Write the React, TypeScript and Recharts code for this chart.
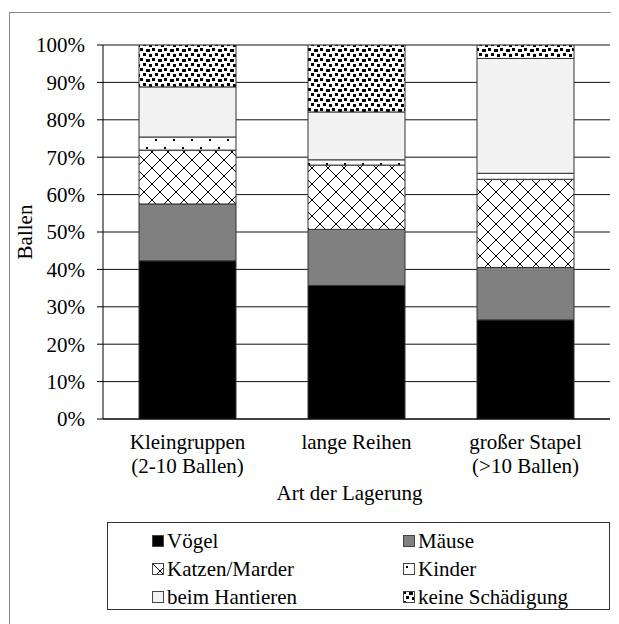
import { Bar, BarChart, CartesianGrid, Legend, XAxis, YAxis } from "recharts";

const categoryLines = [["Kleingruppen", "(2-10 Ballen)"], ["lange Reihen"], ["großer Stapel", "(>10 Ballen)"]];

const voegel = [42.3, 35.7, 26.5];
const maeuse = [15.2, 15.0, 14.0];
const katzen = [14.4, 17.2, 23.6];
const kinder = [3.5, 1.4, 1.6];
const hantieren = [13.4, 12.8, 30.7];
const keine = [11.2, 17.9, 3.6];

const seriesNames = ["Vögel", "Mäuse", "Katzen/Marder", "Kinder", "beim Hantieren", "keine Schädigung"];
const seriesValues = [voegel, maeuse, katzen, kinder, hantieren, keine];

const yTicks = [0, 10, 20, 30, 40, 50, 60, 70, 80, 90, 100];

const FONT = "'Liberation Serif', 'Times New Roman', serif";

const data = categoryLines.map((lines, i) => {
  const row: Record<string, string | number> = { name: lines.join(" ") };
  seriesNames.forEach((s, k) => {
    row[s] = seriesValues[k][i];
  });
  return row;
});

function fillFor(k: number, prefix: string) {
  return ["#000000", "#808080", `url(#${prefix}cross)`, `url(#${prefix}dots)`, "#f2f2f2", `url(#${prefix}confetti)`][k];
}

// confetti squares in a 12x10 tile: x, y, w, h
const confetti = [
  [0, 0, 3, 3], [6, 1, 4, 3], [3, 5, 3, 3], [9, 6, 3, 3]
];

function PatternDefs({ prefix }: { prefix: string }) {
  return (
    <defs>
      <pattern id={`${prefix}cross`} width={16} height={16} patternUnits="userSpaceOnUse">
        <rect width={16} height={16} fill="#fff" />
        <path d="M0 0 L16 16 M16 0 L0 16" stroke="#000" strokeWidth={1} />
      </pattern>
      <pattern id={`${prefix}dots`} width={18} height={16} patternUnits="userSpaceOnUse">
        <rect width={18} height={16} fill="#fff" />
        <rect x={3} y={3} width={2} height={2} fill="#000" />
        <rect x={12} y={11} width={2} height={2} fill="#000" />
      </pattern>
      <pattern id={`${prefix}confetti`} width={12} height={10} patternUnits="userSpaceOnUse">
        <rect width={12} height={10} fill="#fff" />
        {confetti.map(([x, y, w, h], i) => (
          <rect key={i} x={x} y={y} width={w} height={h} fill="#000" shapeRendering="crispEdges" />
        ))}
      </pattern>
    </defs>
  );
}

function CategoryTick({ x, y, index }: any) {
  const lines = categoryLines[index] || [];
  return (
    <text x={x} y={y} textAnchor="middle" fontSize={21} fontFamily={FONT} fill="#000">
      {lines.map((l, i) => (
        <tspan key={i} x={x} y={y + 30 + i * 24}>
          {l}
        </tspan>
      ))}
    </text>
  );
}

function LegendBox() {
  return (
    <div
      style={{
        boxSizing: "border-box",
        width: 503,
        height: 88,
        border: "1px solid #333",
        background: "#fff",
        paddingTop: 4,
        display: "grid",
        gridTemplateColumns: "251px 251px",
        fontFamily: FONT,
        fontSize: 21,
        color: "#000"
      }}
    >
      {seriesNames.map((s, k) => (
        <div
          key={s}
          style={{ height: 28, lineHeight: "28px", display: "flex", alignItems: "center", paddingLeft: 44, whiteSpace: "nowrap" }}
        >
          <svg width={12} height={12} style={{ marginRight: 3, flex: "none" }}>
            <PatternDefs prefix={`l${k}-`} />
            <rect x={0.5} y={0.5} width={11} height={11} fill={fillFor(k, `l${k}-`)} stroke="#444" />
          </svg>
          {s}
        </div>
      ))}
    </div>
  );
}

export default function App() {
  return (
    <div style={{ position: "relative", width: 611, height: 616, overflow: "hidden", fontFamily: FONT }}>
      <div
        style={{
          position: "absolute",
          left: 1,
          top: 4,
          width: 700,
          height: 700,
          border: "1px solid #888"
        }}
      />
      <BarChart
        width={611}
        height={616}
        data={data}
        margin={{ top: 37, right: 9, left: 0, bottom: 105 }}
        style={{ position: "absolute", left: 0, top: 0 }}
      >
        <PatternDefs prefix="p-" />
        <CartesianGrid vertical={false} stroke="#111" strokeOpacity={1} />
        <XAxis
          dataKey="name"
          height={100}
          tickSize={0}
          tickMargin={0}
          axisLine={{ stroke: "#000" }}
          tickLine={false}
          tick={<CategoryTick />}
          interval={0}
          label={{
            content: ({ viewBox }: any) => (
              <text x={viewBox.x + viewBox.width / 2 - 7} y={492} textAnchor="middle" fontSize={21} fontFamily={FONT} fill="#000">
                Art der Lagerung
              </text>
            )
          }}
        />
        <YAxis
          width={95}
          domain={[0, 100]}
          ticks={yTicks}
          allowDataOverflow
          tickSize={6}
          tickMargin={12}
          tickFormatter={(v) => `${v}%`}
          tick={{ fill: "#000", fontSize: 21, fontFamily: FONT }}
          axisLine={{ stroke: "#000" }}
          tickLine={{ stroke: "#000" }}
          label={{
            content: ({ viewBox }: any) => (
              <text
                x={24}
                y={viewBox.y + viewBox.height / 2}
                transform={`rotate(-90 24 ${viewBox.y + viewBox.height / 2})`}
                textAnchor="middle"
                fontSize={21}
                fontFamily={FONT}
                fill="#000"
              >
                Ballen
              </text>
            )
          }}
        />
        <YAxis yAxisId="right" orientation="right" width={0} domain={[0, 100]} tick={false} tickLine={false} axisLine={{ stroke: "#555" }} />
        {seriesNames.map((s, k) => (
          <Bar
            key={s}
            dataKey={s}
            stackId="a"
            barSize={97}
            fill={fillFor(k, "p-")}
            stroke="#333"
            strokeWidth={1}
            isAnimationActive={false}
          />
        ))}
        <Legend
          layout="horizontal"
          verticalAlign="middle"
          align="center"
          wrapperStyle={{ top: 514, left: 99, width: 503, height: 88 }}
          content={() => <LegendBox />}
        />
      </BarChart>
    </div>
  );
}
